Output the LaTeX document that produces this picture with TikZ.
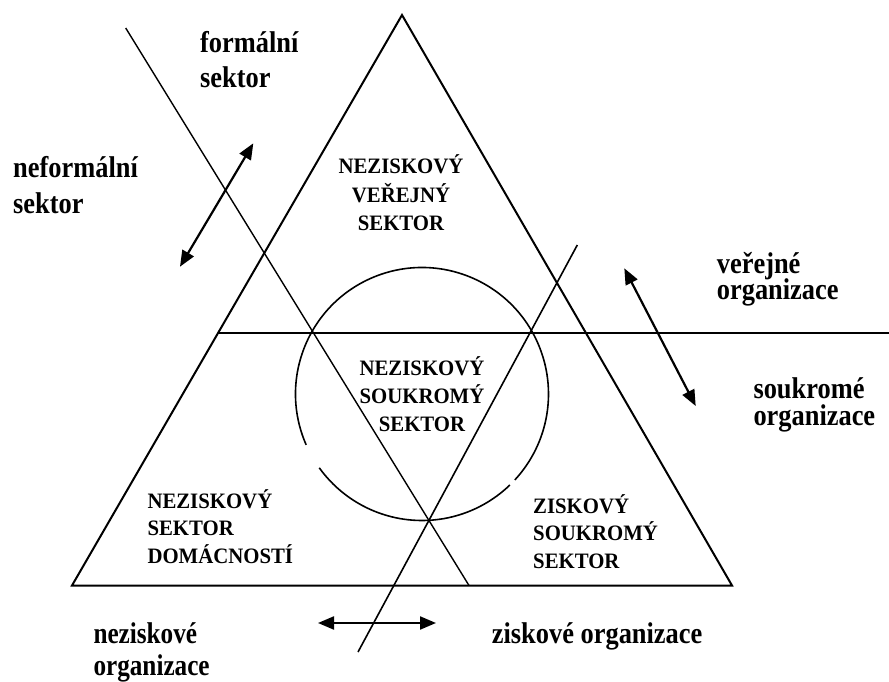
\documentclass[tikz,border=0pt]{standalone}
\usepackage{graphicx}
\usepackage{fontspec}
\setmainfont{Liberation Serif}
\usetikzlibrary{arrows.meta,calc}
\newcommand{\LblA}[1]{\scalebox{0.88}[1]{#1}}
\newcommand{\LblB}[1]{\scalebox{0.84}[1]{#1}}
\newcommand{\LblC}[1]{\scalebox{0.945}[1]{#1}}
\tikzset{
  lbl/.style={inner sep=0pt, font=\bfseries\fontsize{30}{34}\selectfont},
  capslbl/.style={inner sep=0pt, font=\bfseries\fontsize{22}{26}\selectfont},
  thick line/.style={line width=2pt},
  thin line/.style={line width=1.4pt},
  dblarrow/.style={line width=2.2pt, {Triangle[length=16pt,width=13pt]}-{Triangle[length=16pt,width=13pt]}},
}
\begin{document}
\begin{tikzpicture}[x=1pt,y=-1pt]
\useasboundingbox (0,0) rectangle (889,682);
% triangle
\coordinate (apex) at (402,15);
\coordinate (bl) at (72,585.5);
\coordinate (br) at (732,585.5);
\draw[thick line, line join=miter] (apex) -- (bl) -- (br) -- cycle;
% horizontal line
\coordinate (hl) at (217.9,333);
\coordinate (hr) at (889,333);
\draw[thick line] (hl) -- (hr);
% diagonal lines
\coordinate (d1a) at (125.7,28);
\coordinate (d1b) at (469,585.5);
\draw[thin line] (d1a) -- (d1b);
\coordinate (d2a) at (358,652);
\coordinate (d2b) at (577.3,245);
\draw[line width=1.6pt] (d2a) -- (d2b);
% circle with gaps
\coordinate (cc) at (422,394);
\draw[line width=1.6pt] ($(cc)+(156.3:126.5)$) arc[start angle=156.3, end angle=402.8, radius=126.5];
\draw[line width=1.6pt] ($(cc)+(46:126.5)$) arc[start angle=46, end angle=144.3, radius=126.5];
% arrows
\coordinate (a1a) at (180,266.7);
\coordinate (a1b) at (253.3,143.3);
\draw[dblarrow] (a1a) -- (a1b);
\coordinate (a2a) at (624.3,268.3);
\coordinate (a2b) at (695.7,406);
\draw[dblarrow] (a2a) -- (a2b);
\coordinate (a3a) at (318,623);
\coordinate (a3b) at (436,623);
\draw[dblarrow] (a3a) -- (a3b);
% outer labels
\node[lbl, anchor=base west] (f1) at (200,52.7) {\LblA{formální}};
\node[lbl, anchor=base west] (f2) at (200,87.3) {\LblA{sektor}};
\node[lbl, anchor=base west] (nf1) at (13,178) {\LblA{neformální}};
\node[lbl, anchor=base west] (nf2) at (13,213) {\LblA{sektor}};
\node[lbl, anchor=base west] (v1) at (716.7,273.3) {\LblA{veřejné}};
\node[lbl, anchor=base west] (v2) at (716.7,299.3) {\LblA{organizace}};
\node[lbl, anchor=base west] (s1) at (753.3,398.3) {\LblA{soukromé}};
\node[lbl, anchor=base west] (s2) at (753.3,425) {\LblA{organizace}};
\node[lbl, anchor=base west] (n1) at (93.3,643.3) {\LblB{neziskové}};
\node[lbl, anchor=base west] (n2) at (93.3,675) {\LblB{organizace}};
\node[lbl, anchor=base west] (z1) at (491.7,643.3) {\LblA{ziskové organizace}};
% inner labels
\node[capslbl, anchor=base] (t1) at (401,174) {\LblC{NEZISKOVÝ}};
\node[capslbl, anchor=base] (t2) at (401,202.3) {\LblC{VEŘEJNÝ}};
\node[capslbl, anchor=base] (t3) at (401,230) {\LblC{SEKTOR}};
\node[capslbl, anchor=base] (m1) at (422,375) {\LblC{NEZISKOVÝ}};
\node[capslbl, anchor=base] (m2) at (422,403.3) {\LblC{SOUKROMÝ}};
\node[capslbl, anchor=base] (m3) at (422,431) {\LblC{SEKTOR}};
\node[capslbl, anchor=base west] (l1) at (147.3,508) {\LblC{NEZISKOVÝ}};
\node[capslbl, anchor=base west] (l2) at (147.3,535.5) {\LblC{SEKTOR}};
\node[capslbl, anchor=base west] (l3) at (147.3,563) {\LblC{DOMÁCNOSTÍ}};
\node[capslbl, anchor=base west] (r1) at (533,513.3) {\LblC{ZISKOVÝ}};
\node[capslbl, anchor=base west] (r2) at (533,540.7) {\LblC{SOUKROMÝ}};
\node[capslbl, anchor=base west] (r3) at (533,568.3) {\LblC{SEKTOR}};
\end{tikzpicture}
\end{document}
